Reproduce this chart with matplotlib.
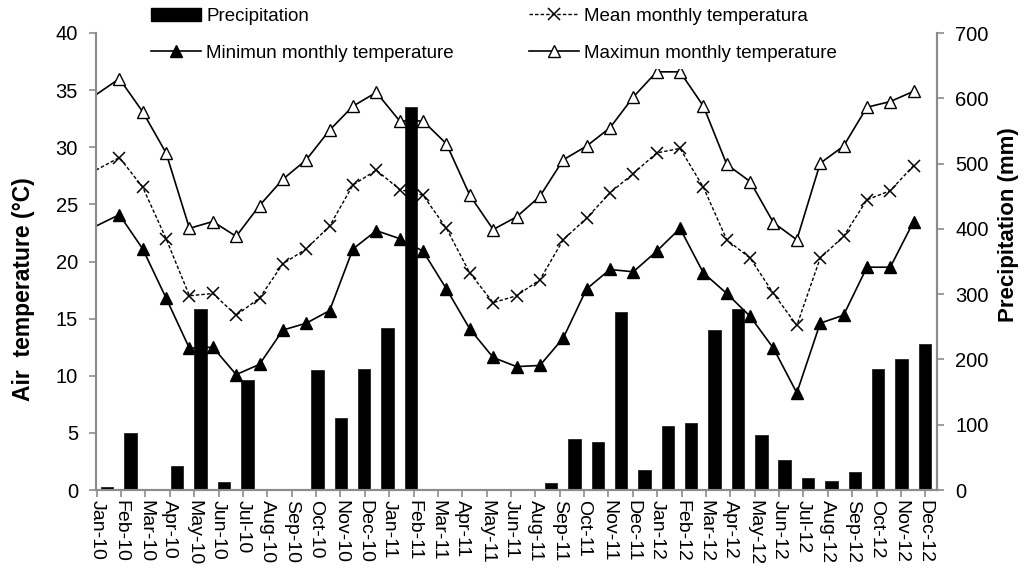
import matplotlib
matplotlib.use('Agg')
import matplotlib.pyplot as plt
from matplotlib.patches import Patch
from matplotlib.lines import Line2D
import numpy as np

plt.rcParams['font.family'] = ['Liberation Sans', 'DejaVu Sans']

# monthly series, Jan-10 .. Dec-12
tmax = [34.6, 36.0, 33.1, 29.5, 22.9, 23.5, 22.2, 24.9, 27.2, 28.9, 31.5, 33.6,
        34.8, 32.3, 32.3, 30.3, 25.8, 22.8, 23.9, 25.7, 28.9, 30.1, 31.7, 34.4,
        36.6, 36.6, 33.6, 28.5, 27.0, 23.4, 21.9, 28.6, 30.1, 33.5, 34.0, 34.9]
tmean = [28.0, 29.1, 26.5, 22.0, 17.0, 17.2, 15.3, 16.8, 19.8, 21.1, 23.1, 26.7,
         28.0, 26.3, 25.8, 22.9, 19.0, 16.4, 17.0, 18.4, 21.9, 23.8, 26.0, 27.7,
         29.5, 29.9, 26.5, 21.9, 20.3, 17.2, 14.4, 20.3, 22.2, 25.4, 26.2, 28.4]
tmin = [23.1, 24.1, 21.1, 16.8, 12.4, 12.5, 10.1, 11.0, 14.0, 14.6, 15.7, 21.1,
        22.7, 22.0, 20.9, 17.6, 14.1, 11.6, 10.8, 10.9, 13.3, 17.6, 19.3, 19.1,
        20.9, 22.9, 19.0, 17.2, 15.2, 12.4, 8.5, 14.6, 15.3, 19.5, 19.5, 23.5]
precip = [5, 87, 0, 36, 278, 13, 169, 0, 0, 184, 111, 186,
          248, 586, 0, 0, 0, 0, 0, 10, 78, 74, 272, 30,
          98, 102, 245, 277, 85, 46, 18, 14, 27, 185, 200, 224]

# axis labels as printed (Jul-11 is missing on the original axis)
tick_labels = ['Jan-10', 'Feb-10', 'Mar-10', 'Apr-10', 'May-10', 'Jun-10', 'Jul-10',
               'Aug-10', 'Sep-10', 'Oct-10', 'Nov-10', 'Dec-10', 'Jan-11', 'Feb-11',
               'Mar-11', 'Apr-11', 'May-11', 'Jun-11', 'Aug-11', 'Sep-11', 'Oct-11',
               'Nov-11', 'Dec-11', 'Jan-12', 'Feb-12', 'Mar-12', 'Apr-12', 'May-12',
               'Jun-12', 'Jul-12', 'Aug-12', 'Sep-12', 'Oct-12', 'Nov-12', 'Dec-12']

W, H = 1032, 572
fig = plt.figure(figsize=(W / 100, H / 100), dpi=100)
ax = fig.add_axes([96 / W, 1 - 490 / H, (937 - 96) / W, (490 - 33) / H])
ax2 = ax.twinx()

x = np.arange(len(tmax))
grey = '#8c8c8c'

ax2.bar(x + 0.48, precip, width=0.53, color='black', edgecolor='#222222', linewidth=0.6)
ax2.set_ylim(0, 700)
ax2.set_yticks(range(0, 701, 100))

ax.plot(x, tmax, color='black', lw=1.2, marker='^', ms=8.5, mfc='white', mec='black',
        mew=1.0, markevery=slice(1, None))
ax.plot(x, tmean, color='black', lw=1.0, ls=(0, (2.5, 1.5)), marker='x', ms=8.5, mew=1.1,
        markevery=slice(1, None))
ax.plot(x, tmin, color='black', lw=1.2, marker='^', ms=8.5, mfc='black', mec='black',
        markevery=slice(1, None))
ax.set_ylim(0, 40)
ax.set_yticks(range(0, 41, 5))
ax.set_xlim(0, 36)
ax.set_xticks(np.linspace(0.03, 35.5, len(tick_labels)))
ax.set_xticklabels(tick_labels, rotation=-90)

ax.set_zorder(ax2.get_zorder() + 1)
ax.patch.set_visible(False)

for a in (ax, ax2):
    a.spines['top'].set_visible(False)
    for s in ('left', 'right', 'bottom'):
        a.spines[s].set_color(grey)
        a.spines[s].set_linewidth(1.5)
    a.tick_params(axis='y', colors=grey, labelcolor='black', labelsize=14.5,
                  direction='out', length=5, width=1.2, pad=8)
ax.tick_params(axis='x', colors=grey, labelcolor='black', labelsize=14,
               direction='out', length=5, width=1.2, pad=2)

ax.set_ylabel('Air  temperature (°C)', fontsize=16.5, fontweight='bold')
ax.yaxis.set_label_coords(-0.0725, 0.44)
ax2.set_ylabel('Precipitation (mm)', fontsize=16, fontweight='bold', rotation=90)
ax2.yaxis.set_label_coords(1.072, 0.58)

handles = [
    Patch(facecolor='black', edgecolor='black'),
    Line2D([], [], color='black', lw=1.2, marker='^', ms=8.5, mfc='black'),
    Line2D([], [], color='black', lw=1.0, ls=(0, (2.5, 1.5)), marker='x', ms=8.5, mew=1.1),
    Line2D([], [], color='black', lw=1.2, marker='^', ms=8.5, mfc='white', mec='black'),
]
labels = ['Precipitation', 'Minimun monthly temperature',
          'Mean monthly temperatura', 'Maximun monthly temperature']
fig.legend(handles, labels, ncol=2, loc='upper left', bbox_to_anchor=(143 / W, 1.0),
           fontsize=13.5, frameon=True, facecolor='white', edgecolor='none',
           framealpha=1, borderaxespad=0, borderpad=0.4, handlelength=2.7,
           handletextpad=0.27, columnspacing=4.0, labelspacing=1.04,
           handleheight=0.75, fancybox=False)

fig.savefig('out.png', dpi=100)
plt.close(fig)
